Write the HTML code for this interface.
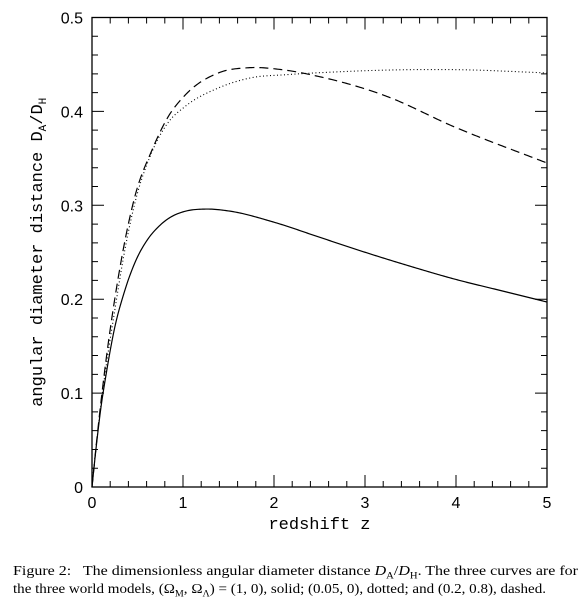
<!DOCTYPE html>
<html><head><meta charset="utf-8">
<style>
body{margin:0;background:#fff;width:583px;height:603px;overflow:hidden;position:relative}
svg{display:block}
.cap{position:absolute;left:13px;font-family:"Liberation Serif",serif;font-size:13.5px;color:#000;white-space:nowrap;transform-origin:0 0}
</style></head>
<body>
<svg id="chart" width="583" height="603" xmlns="http://www.w3.org/2000/svg"></svg>
<div class="cap" id="c1" style="top:563px">Figure 2:&nbsp;&nbsp; The dimensionless angular diameter distance <i>D</i><sub style="font-size:9px">A</sub>/<i>D</i><sub style="font-size:9px">H</sub>. The three curves are for</div>
<div class="cap" id="c2" style="top:581px">the three world models, (Ω<sub style="font-size:9px">M</sub>, Ω<sub style="font-size:9px">Λ</sub>) = (1, 0), solid; (0.05, 0), dotted; and (0.2, 0.8), dashed.</div>
<script>
const solidZ=[0,0.02,0.05,0.1,0.15,0.25,0.35,0.5,0.6,0.75,0.875,1,1.25,1.5,2,2.5,3,3.5,4,4.5,5];
const solidV=[0,0.019,0.046,0.086,0.117,0.170,0.206,0.245,0.262,0.279,0.288,0.293,0.296,0.294,0.282,0.266,0.250,0.235,0.221,0.209,0.197];
const dottedZ=[0,0.05,0.1,0.15,0.25,0.36,0.47,0.655,0.835,1.02,1.39,1.76,2.12,2.67,3.24,3.97,5];
const dottedV=[0,0.047,0.089,0.125,0.188,0.252,0.302,0.356,0.388,0.405,0.425,0.436,0.439,0.442,0.444,0.4445,0.441];
const dashedZ=[0,0.05,0.1,0.15,0.29,0.47,0.66,0.835,1.02,1.39,1.72,2.12,2.5,3.24,3.97,5];
const dashedV=[0,0.048,0.092,0.132,0.224,0.309,0.359,0.394,0.417,0.441,0.4465,0.444,0.437,0.416,0.384,0.345];
const xTicks=[0,1,2,3,4,5];
const yTicks=[0,0.1,0.2,0.3,0.4,0.5];
const yTickLabels=["0","0.1","0.2","0.3","0.4","0.5"];

const NS="http://www.w3.org/2000/svg";
const svg=document.getElementById('chart');
const L=92,R=547,T=17.5,B=487;
const xs=z=>L+(z/5)*(R-L);
const ys=v=>B-(v/0.5)*(B-T);
function mk(tag,attrs){const e=document.createElementNS(NS,tag);for(const k in attrs)e.setAttribute(k,attrs[k]);svg.appendChild(e);return e;}

const frame=mk('rect',{x:L,y:T,width:R-L,height:B-T,fill:'none',stroke:'#000','stroke-width':1.3});



let tp='';
for(let i=0;i<=25;i++){const z=i*0.2;const x=xs(z);const len=(i%5===0)?12:6;
 tp+=`M${x},${B}v${-len}M${x},${T}v${len}`;}
for(let i=0;i<=25;i++){const v=i*0.02;const y=ys(v);const len=(i%5===0)?12:6;
 tp+=`M${L},${y}h${len}M${R},${y}h${-len}`;}
const ticks=mk('path',{d:tp,stroke:'#000','stroke-width':1,fill:'none'});



xTicks.forEach(z=>{const t=mk('text',{x:xs(z),y:B+21,'text-anchor':'middle','font-family':'Liberation Sans,sans-serif','font-size':16});t.textContent=String(z);
 
 });
yTicks.forEach((v,i)=>{const t=mk('text',{x:L-9,y:ys(v)+6,'text-anchor':'end','font-family':'Liberation Sans,sans-serif','font-size':16});t.textContent=yTickLabels[i];
 
 });

const xt=mk('text',{x:(L+R)/2,y:529,'text-anchor':'middle','font-family':'Liberation Mono,monospace','font-size':17});
xt.textContent='redshift z';


const yt=mk('text',{x:0,y:0,'text-anchor':'middle','font-family':'Liberation Mono,monospace','font-size':17,transform:`translate(42,${(T+B)/2}) rotate(-90)`});
yt.innerHTML='angular diameter distance  D<tspan font-size="11" dy="4">A</tspan><tspan dy="-4">/D</tspan><tspan font-size="11" dy="4">H</tspan>';



// smooth cubic Hermite interpolation in data space (z), sampled densely
function curve(zs,vs){
 const n=zs.length,m=new Array(n);
 for(let i=0;i<n;i++){
  if(i===0)m[i]=(vs[1]-vs[0])/(zs[1]-zs[0]);
  else if(i===n-1)m[i]=(vs[n-1]-vs[n-2])/(zs[n-1]-zs[n-2]);
  else{const d0=(vs[i]-vs[i-1])/(zs[i]-zs[i-1]),d1=(vs[i+1]-vs[i])/(zs[i+1]-zs[i]);
   const h0=zs[i]-zs[i-1],h1=zs[i+1]-zs[i];m[i]=(d0*h1+d1*h0)/(h0+h1);}
 }
 let d=`M${xs(zs[0])},${ys(vs[0])}`;
 for(let i=0;i<n-1;i++){const h=zs[i+1]-zs[i];const steps=Math.max(4,Math.ceil(h*60));
  for(let s=1;s<=steps;s++){const t=s/steps,t2=t*t,t3=t2*t;
   const v=(2*t3-3*t2+1)*vs[i]+(t3-2*t2+t)*h*m[i]+(-2*t3+3*t2)*vs[i+1]+(t3-t2)*h*m[i+1];
   d+=`L${xs(zs[i]+t*h).toFixed(2)},${ys(v).toFixed(2)}`;}}
 return d;}
const s1=mk('path',{d:curve(solidZ,solidV),fill:'none',stroke:'#000','stroke-width':1.2});


const s2=mk('path',{d:curve(dottedZ,dottedV),fill:'none',stroke:'#000','stroke-width':1.1,'stroke-dasharray':'1 2.5'});


const s3=mk('path',{d:curve(dashedZ,dashedV),fill:'none',stroke:'#000','stroke-width':1.2,'stroke-dasharray':'9 5'});



['c1','c2'].forEach((id,i)=>{const el=document.getElementById(id);const w=el.getBoundingClientRect().width;const target=i===0?565:533;el.style.transform=`scaleX(${target/w})`;});
</script>
</body></html>
